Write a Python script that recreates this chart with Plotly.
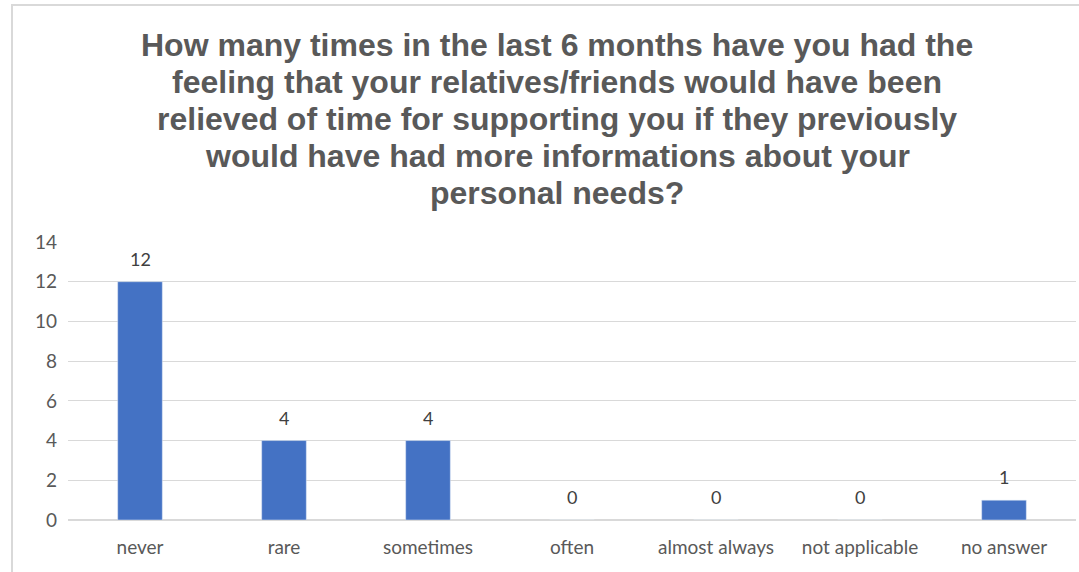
import plotly.graph_objects as go

categories = ['never', 'rare', 'sometimes', 'often', 'almost always', 'not applicable', 'no answer']
counts = [12, 4, 4, 0, 0, 0, 1]
y_ticks = [0, 2, 4, 6, 8, 10, 12, 14]
title_lines = [
    'How many times in the last 6 months have you had the',
    'feeling that your relatives/friends would have been',
    'relieved of time for supporting you if they previously',
    'would have had more informations about your',
    'personal needs?',
]

W, H = 1079, 572
L, R, T, B = 68, 3, 242, 52
plot_w = W - L - R
plot_h = H - T - B

fig = go.Figure()
fig.add_trace(go.Bar(
    x=categories,
    y=counts,
    marker_color='#4472C4',
    hoverinfo='x+y',
))

# value labels sit a bit higher above the bars than plotly's outside text
for cat, val in zip(categories, counts):
    fig.add_annotation(
        x=cat, y=val, text=str(val), showarrow=False,
        yanchor='middle', yshift=23,
        font=dict(family='Lato', size=18, color='#404040'),
    )

# title lines, placed one by one to keep the wide line spacing
for i, line in enumerate(title_lines):
    py = 45 + i * 37
    fig.add_annotation(
        text=line, xref='paper', yref='paper',
        x=(557 - L) / plot_w, y=(H - B - py) / plot_h,
        xanchor='center', yanchor='middle', showarrow=False,
        font=dict(family='Liberation Sans', size=32, color='#595959', weight='bold'),
    )

# outer frame of the chart
fig.add_shape(
    type='rect', xref='paper', yref='paper',
    x0=(12 - L) / plot_w, x1=(1085 - L) / plot_w,
    y0=(H - B - 580) / plot_h, y1=(H - B - 5) / plot_h,
    line=dict(color='#D9D9D9', width=2), fillcolor='rgba(0,0,0,0)',
)

fig.update_layout(
    width=W, height=H,
    margin=dict(l=L, r=R, t=T, b=B),
    paper_bgcolor='white', plot_bgcolor='white',
    bargap=0.69,
    showlegend=False,
    font=dict(family='Lato', size=19, color='#595959'),
)
fig.update_xaxes(showgrid=False, showline=False, ticks='', ticklabelstandoff=14,
                 tickfont=dict(size=19, color='#595959'))
fig.update_yaxes(
    range=[0, 14], tickvals=y_ticks, showgrid=True, gridcolor='#D9D9D9', gridwidth=1,
    zeroline=True, zerolinecolor='#D9D9D9', showline=False, ticks='', ticklabelstandoff=10,
    tickfont=dict(size=19, color='#595959'),
)

fig.write_html('out.html', config={'displayModeBar': False},
               post_script="document.body.style.margin='0';")
